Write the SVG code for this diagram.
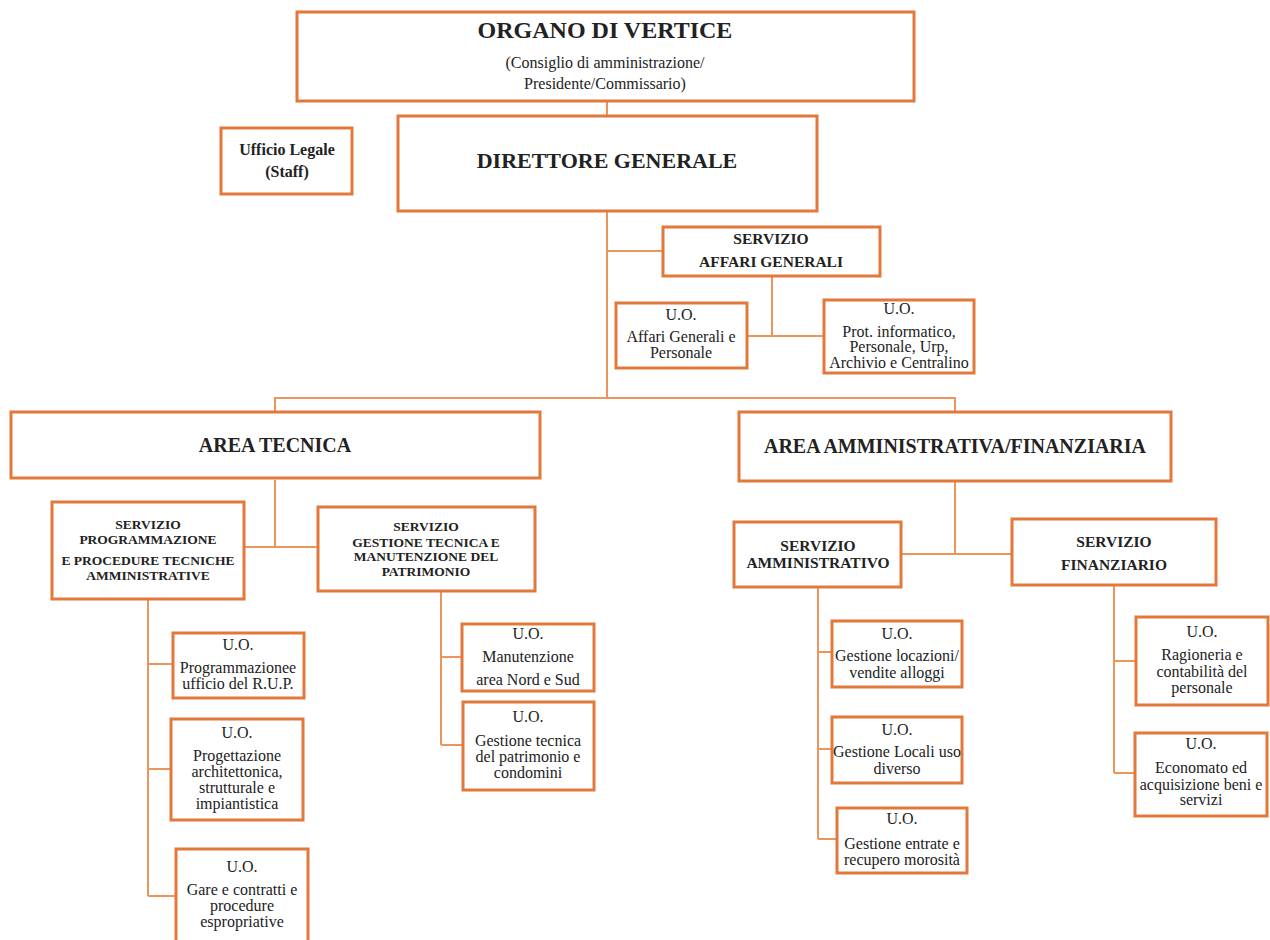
<svg xmlns="http://www.w3.org/2000/svg" width="1270" height="940" viewBox="0 0 1270 940">
<style>
.box{fill:#fff;stroke:#E2793A;stroke-width:3}
.ln{fill:none;stroke:#EC955C;stroke-width:2}
text{font-family:"Liberation Serif","Times New Roman",serif;fill:#222;text-anchor:middle}
.b{font-weight:bold}
.t1{font-size:24px}
.t2{font-size:22px}
.t3{font-size:20px}
.c{font-size:16px}
.s{font-size:15.5px}
.sm{font-size:13.5px}
.u{font-size:16px}
</style>
<rect width="1270" height="940" fill="#fff"/>
<g id="connectors">
<path class="ln" d="M607 101V116"/>
<path class="ln" d="M607 211V398"/>
<path class="ln" d="M607 251H663"/>
<path class="ln" d="M772 276V336M747 336H824"/>
<path class="ln" d="M275 412V398H955V412"/>
<path class="ln" d="M275 480V547M244 547H318"/>
<path class="ln" d="M148 599V896M148 664H173M148 769H171M148 896H176"/>
<path class="ln" d="M441 591V745M441 657H462M441 745H463"/>
<path class="ln" d="M955 481V554M901 554H1012"/>
<path class="ln" d="M818 587V839M818 652H832M818 749H832M818 839H837"/>
<path class="ln" d="M1114 585V773M1114 661H1136M1114 773H1135"/>
</g>
<g id="organo"><rect class="box" x="297" y="12" width="617" height="89"/>
<text class="b t1" x="605" y="38">ORGANO DI VERTICE</text>
<text class="c" x="605" y="68">(Consiglio di amministrazione/</text>
<text class="c" x="605" y="89">Presidente/Commissario)</text></g>
<g id="legale"><rect class="box" x="221" y="128" width="131" height="66"/>
<text class="b c" x="287" y="155">Ufficio Legale</text>
<text class="b c" x="287" y="177">(Staff)</text></g>
<g id="direttore"><rect class="box" x="398" y="116" width="419" height="95"/>
<text class="b t2" x="607" y="168">DIRETTORE GENERALE</text></g>
<g id="serv-ag"><rect class="box" x="663" y="227" width="217" height="49"/>
<text class="b s" x="771" y="244">SERVIZIO</text>
<text class="b s" x="771" y="267">AFFARI GENERALI</text></g>
<g id="uo-ag"><rect class="box" x="616" y="303" width="131" height="65"/>
<text class="u" x="681" y="320">U.O.</text>
<text class="u" x="681" y="342">Affari Generali e</text>
<text class="u" x="681" y="358">Personale</text></g>
<g id="uo-prot"><rect class="box" x="824" y="300" width="150" height="73"/>
<text class="u" x="899" y="314">U.O.</text>
<text class="u" x="899" y="337">Prot. informatico,</text>
<text class="u" x="899" y="352">Personale, Urp,</text>
<text class="u" x="899" y="368">Archivio e Centralino</text></g>
<g id="area-tecnica"><rect class="box" x="11" y="412" width="529" height="66"/>
<text class="b t3" x="275" y="452">AREA TECNICA</text></g>
<g id="area-amm"><rect class="box" x="739" y="412" width="432" height="69"/>
<text class="b t3" x="955" y="453">AREA AMMINISTRATIVA/FINANZIARIA</text></g>
<g id="serv-prog"><rect class="box" x="52" y="502" width="192" height="97"/>
<text class="b sm" x="148" y="529">SERVIZIO</text>
<text class="b sm" x="148" y="544">PROGRAMMAZIONE</text>
<text class="b sm" x="148" y="565">E PROCEDURE TECNICHE</text>
<text class="b sm" x="148" y="580">AMMINISTRATIVE</text></g>
<g id="serv-gest"><rect class="box" x="318" y="507" width="217" height="84"/>
<text class="b sm" x="426" y="531">SERVIZIO</text>
<text class="b sm" x="426" y="547">GESTIONE TECNICA E</text>
<text class="b sm" x="426" y="561">MANUTENZIONE DEL</text>
<text class="b sm" x="426" y="576">PATRIMONIO</text></g>
<g id="serv-amm"><rect class="box" x="734" y="522" width="167" height="65"/>
<text class="b s" x="818" y="551">SERVIZIO</text>
<text class="b s" x="818" y="568">AMMINISTRATIVO</text></g>
<g id="serv-fin"><rect class="box" x="1012" y="519" width="204" height="66"/>
<text class="b s" x="1114" y="547">SERVIZIO</text>
<text class="b s" x="1114" y="570">FINANZIARIO</text></g>
<g id="uo-progr"><rect class="box" x="173" y="633" width="131" height="65"/>
<text class="u" x="238" y="650">U.O.</text>
<text class="u" x="238" y="673">Programmazionee</text>
<text class="u" x="238" y="689">ufficio del R.U.P.</text></g>
<g id="uo-progett"><rect class="box" x="171" y="719" width="132" height="101"/>
<text class="u" x="237" y="738">U.O.</text>
<text class="u" x="237" y="761">Progettazione</text>
<text class="u" x="237" y="777">architettonica,</text>
<text class="u" x="237" y="793">strutturale e</text>
<text class="u" x="237" y="809">impiantistica</text></g>
<g id="uo-gare"><rect class="box" x="176" y="849" width="132" height="96"/>
<text class="u" x="242" y="872">U.O.</text>
<text class="u" x="242" y="895">Gare e contratti e</text>
<text class="u" x="242" y="911">procedure</text>
<text class="u" x="242" y="927">espropriative</text></g>
<g id="uo-manut"><rect class="box" x="462" y="624" width="132" height="67"/>
<text class="u" x="528" y="639">U.O.</text>
<text class="u" x="528" y="662">Manutenzione</text>
<text class="u" x="528" y="685">area Nord e Sud</text></g>
<g id="uo-gesttec"><rect class="box" x="463" y="702" width="131" height="88"/>
<text class="u" x="528" y="722">U.O.</text>
<text class="u" x="528" y="746">Gestione tecnica</text>
<text class="u" x="528" y="762">del patrimonio e</text>
<text class="u" x="528" y="778">condomini</text></g>
<g id="uo-locaz"><rect class="box" x="832" y="621" width="130" height="66"/>
<text class="u" x="897" y="639">U.O.</text>
<text class="u" x="897" y="661">Gestione locazioni/</text>
<text class="u" x="897" y="678">vendite alloggi</text></g>
<g id="uo-locali"><rect class="box" x="832" y="717" width="130" height="66"/>
<text class="u" x="897" y="735">U.O.</text>
<text class="u" x="897" y="757">Gestione Locali uso</text>
<text class="u" x="897" y="774">diverso</text></g>
<g id="uo-entrate"><rect class="box" x="837" y="808" width="130" height="65"/>
<text class="u" x="902" y="824">U.O.</text>
<text class="u" x="902" y="849">Gestione entrate e</text>
<text class="u" x="902" y="865">recupero morosità</text></g>
<g id="uo-ragion"><rect class="box" x="1136" y="617" width="132" height="88"/>
<text class="u" x="1202" y="637">U.O.</text>
<text class="u" x="1202" y="660">Ragioneria e</text>
<text class="u" x="1202" y="677">contabilità del</text>
<text class="u" x="1202" y="693">personale</text></g>
<g id="uo-econ"><rect class="box" x="1135" y="733" width="132" height="83"/>
<text class="u" x="1201" y="749">U.O.</text>
<text class="u" x="1201" y="773">Economato ed</text>
<text class="u" x="1201" y="790">acquisizione beni e</text>
<text class="u" x="1201" y="805">servizi</text></g>
</svg>
